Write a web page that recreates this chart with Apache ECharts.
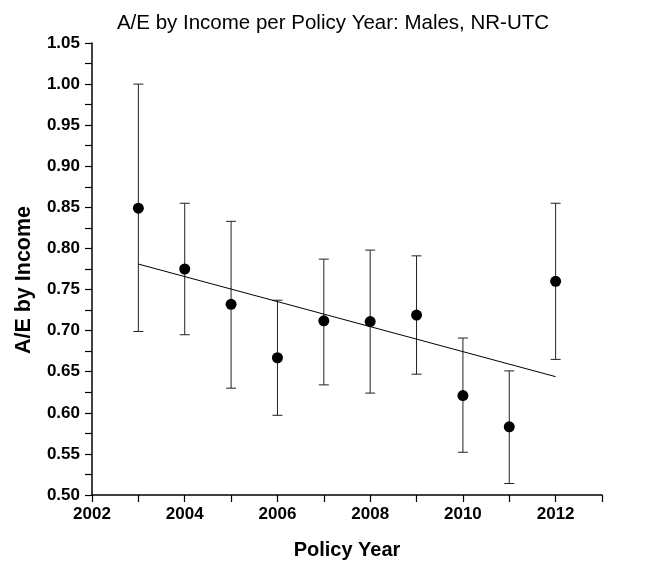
<!DOCTYPE html>
<html>
<head>
<meta charset="utf-8">
<script src="https://cdn.jsdelivr.net/npm/echarts@6/dist/echarts.min.js"></script>
<style>html,body{margin:0;padding:0;background:#fff}#c{width:652px;height:565px}</style>
</head>
<body>
<div id="c"></div>
<script>
var years = [2003, 2004, 2005, 2006, 2007, 2008, 2009, 2010, 2011, 2012];
var ae = [0.849, 0.775, 0.732, 0.667, 0.712, 0.711, 0.719, 0.621, 0.583, 0.760];
var lower = [0.699, 0.695, 0.630, 0.597, 0.634, 0.624, 0.647, 0.552, 0.514, 0.665];
var upper = [1.000, 0.855, 0.833, 0.737, 0.787, 0.798, 0.791, 0.691, 0.651, 0.855];
var trendYears = [2003, 2012];
var trendValues = [0.781, 0.644];
var titleText = 'A/E by Income per Policy Year: Males, NR-UTC';
var xName = 'Policy Year';
var yName = 'A/E by Income';

var chart = echarts.init(document.getElementById('c'));
var font = "'Liberation Sans', Arial, sans-serif";
var errData = years.map(function (y, i) { return [y, lower[i], upper[i]]; });
chart.setOption({
  animation: false,
  title: {
    text: titleText,
    left: 328, top: 8, textAlign: 'center',
    textStyle: { fontFamily: font, fontWeight: 'normal', fontSize: 20.5, color: '#000' }
  },
  graphic: [
    {
      type: 'text', x: 24, y: 280, rotation: Math.PI / 2,
      style: { text: yName, font: 'bold 21.5px ' + font, fill: '#000', textAlign: 'center', textVerticalAlign: 'middle' }
    }
  ],
  grid: { left: 92, right: 50, top: 43, bottom: 70 },
  xAxis: {
    type: 'value', min: 2002, max: 2013, interval: 2,
    name: xName, nameLocation: 'middle', nameGap: 45,
    nameTextStyle: { fontFamily: font, fontWeight: 'bold', fontSize: 20, color: '#000' },
    axisLine: { show: true, onZero: false, lineStyle: { color: '#000', width: 1.5 } },
    axisTick: { show: true, inside: false, length: 7, lineStyle: { color: '#000', width: 1.2 } },
    minorTick: { show: true, splitNumber: 2, length: 7, lineStyle: { color: '#000', width: 1.2 } },
    splitLine: { show: false },
    axisLabel: { showMaxLabel: false, fontFamily: font, fontWeight: 'bold', fontSize: 17, color: '#000', margin: 11, formatter: function (v) { return String(v); } }
  },
  yAxis: {
    type: 'value', min: 0.5, max: 1.05, interval: 0.05,
    axisLine: { show: true, onZero: false, lineStyle: { color: '#000', width: 1.5 } },
    axisTick: { show: true, inside: false, length: 7, lineStyle: { color: '#000', width: 1.2 } },
    minorTick: { show: true, splitNumber: 2, length: 7, lineStyle: { color: '#000', width: 1.2 } },
    splitLine: { show: false },
    axisLabel: { fontFamily: font, fontWeight: 'bold', fontSize: 17, color: '#000', margin: 12, formatter: function (v) { return v.toFixed(2); } }
  },
  series: [
    {
      type: 'custom',
      data: errData,
      encode: { x: 0, y: [1, 2] },
      renderItem: function (params, api) {
        var x = api.value(0);
        var lo = api.coord([x, api.value(1)]);
        var hi = api.coord([x, api.value(2)]);
        var hw = 5;
        var style = { stroke: '#222', lineWidth: 1, fill: null };
        return {
          type: 'group',
          children: [
            { type: 'line', shape: { x1: lo[0], y1: lo[1], x2: hi[0], y2: hi[1] }, style: style },
            { type: 'line', shape: { x1: lo[0] - hw, y1: lo[1], x2: lo[0] + hw, y2: lo[1] }, style: style },
            { type: 'line', shape: { x1: hi[0] - hw, y1: hi[1], x2: hi[0] + hw, y2: hi[1] }, style: style }
          ]
        };
      },
      z: 1
    },
    {
      type: 'line',
      data: trendYears.map(function (y, i) { return [y, trendValues[i]]; }),
      showSymbol: false,
      lineStyle: { color: '#000', width: 1 },
      z: 2
    },
    {
      type: 'scatter',
      data: years.map(function (y, i) { return [y, ae[i]]; }),
      symbol: 'circle', symbolSize: 11,
      itemStyle: { color: '#000', opacity: 1 },
      z: 3
    }
  ]
});
</script>
</body>
</html>
